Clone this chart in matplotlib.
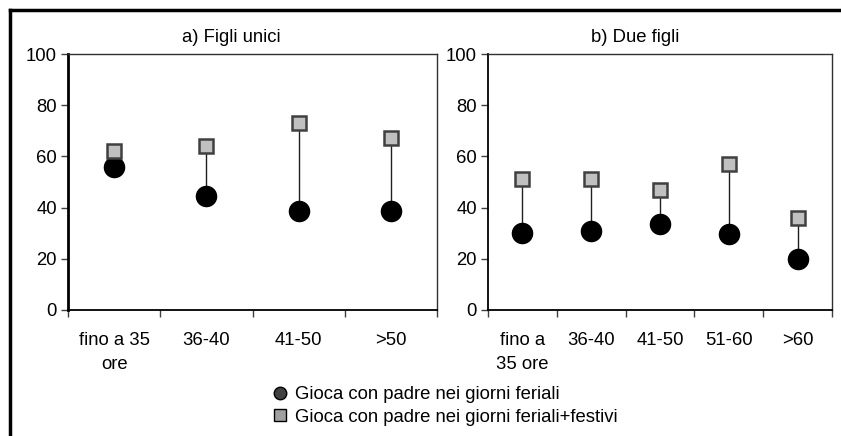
from matplotlib import pyplot as plt
from matplotlib.lines import Line2D
from numpy import arange

# dati
cat_a = ['fino a 35\nore', '36-40', '41-50', '>50']
feriali_a = [56, 44.5, 38.5, 38.5]
festivi_a = [62, 64, 73, 67]

cat_b = ['fino a\n35 ore', '36-40', '41-50', '51-60', '>60']
feriali_b = [30, 31, 33.5, 29.5, 20]
festivi_b = [51, 51, 47, 57, 36]

titolo_a = 'a) Figli unici'
titolo_b = 'b) Due figli'
legenda = ['Gioca con padre nei giorni feriali',
           'Gioca con padre nei giorni feriali+festivi']

plt.rcParams['font.family'] = ['Liberation Sans', 'DejaVu Sans']
plt.rcParams['font.size'] = 13.3

W, H = 841, 436
fig = plt.figure(figsize=(W / 100, H / 100), dpi=100)


def pannello(rect, categorie, feriali, festivi, spessore_sx):
    ax = fig.add_axes(rect)
    n = len(categorie)
    x = arange(n)
    # linee verticali tra i due punti
    for i in range(n):
        ax.plot([x[i], x[i]], [feriali[i], festivi[i]], color='#202020', lw=1, zorder=1)
    ax.plot(x, feriali, 'o', ms=14.5, color='black', zorder=3)
    ax.plot(x, festivi, 's', ms=10, mfc='#c0c0c0', mec='#404040', mew=1.8, zorder=3)

    ax.set_xlim(-0.5, n - 0.5)
    ax.set_ylim(0, 100)
    ax.set_yticks(range(0, 101, 20))
    ax.tick_params(axis='y', length=5, width=1, pad=3, color='#404040')

    # tacche sui confini, etichette al centro
    ax.set_xticks(arange(n + 1) - 0.5)
    ax.set_xticklabels([])
    ax.set_xticks(x, minor=True)
    ax.set_xticklabels(categorie, minor=True, linespacing=1.55, va='top')
    ax.tick_params(axis='x', which='major', length=5, width=1, color='#404040', direction='out')
    ax.tick_params(axis='x', which='minor', length=0, pad=16)

    ax.spines['left'].set_linewidth(spessore_sx)
    ax.spines['bottom'].set_linewidth(1.3)
    ax.spines['top'].set_linewidth(1)
    ax.spines['right'].set_linewidth(1)
    ax.spines['top'].set_color('#303030')
    ax.spines['right'].set_color('#303030')
    return ax


ax1 = pannello([68 / W, 1 - 310 / H, (437 - 68) / W, (310 - 54) / H],
               cat_a, feriali_a, festivi_a, 2)
ax2 = pannello([488 / W, 1 - 310 / H, (832 - 488) / W, (310 - 54) / H],
               cat_b, feriali_b, festivi_b, 1.3)

fig.text(231 / W, 1 - 37 / H, titolo_a, ha='center', va='center')
fig.text(635 / W, 1 - 37 / H, titolo_b, ha='center', va='center')

# legenda
maniglie = [Line2D([], [], ls='none', marker='o', ms=9, mfc='#404040', mec='black', mew=1),
            Line2D([], [], ls='none', marker='s', ms=9, mfc='#a0a0a0', mec='black', mew=1)]
fig.legend(maniglie, legenda, loc='center left', bbox_to_anchor=(273 / W, 1 - 406 / H),
           frameon=False, handlelength=0.8, handletextpad=0.4, labelspacing=0.3,
           borderpad=0, borderaxespad=0)

# cornice esterna
fig.add_artist(Line2D([10 / W, 10 / W], [0, 1 - 10 / H], color='black', lw=2.5))
fig.add_artist(Line2D([10 / W, 1], [1 - 10 / H, 1 - 10 / H], color='black', lw=2.5))

fig.savefig('out.png', dpi=100)
